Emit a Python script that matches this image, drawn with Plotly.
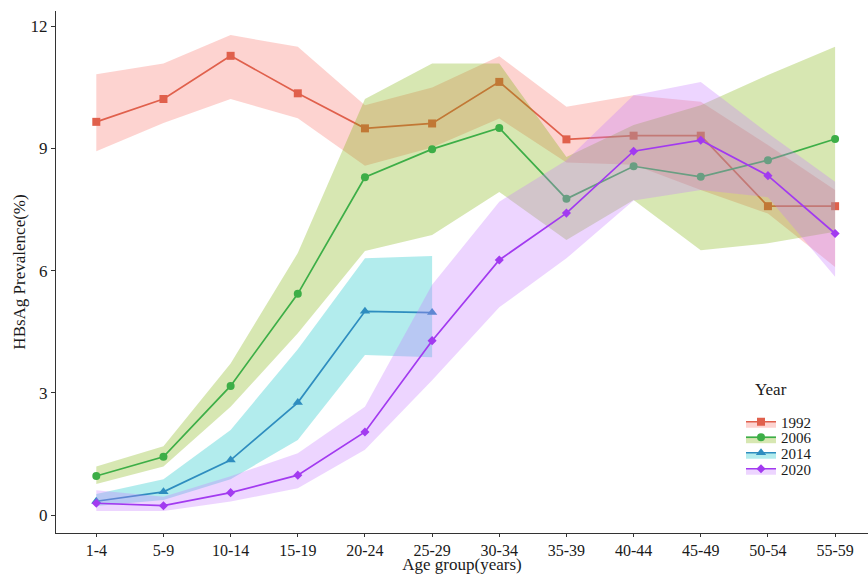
import plotly.graph_objects as go

ages = ["1-4", "5-9", "10-14", "15-19", "20-24", "25-29", "30-34",
        "35-39", "40-44", "45-49", "50-54", "55-59"]

years = ["1992", "2006", "2014", "2020"]

mean_1992 = [9.65, 10.21, 11.27, 10.35, 9.49, 9.61, 10.63, 9.22, 9.31, 9.31, 7.58, 7.58]
low_1992 = [8.93, 9.62, 10.21, 9.74, 8.57, 9.02, 9.73, 8.65, 8.60, 7.98, 7.40, 6.09]
up_1992 = [10.82, 11.08, 11.78, 11.49, 10.06, 10.49, 11.26, 10.02, 10.30, 10.14, 9.08, 7.98]

mean_2006 = [0.96, 1.43, 3.17, 5.43, 8.29, 8.98, 9.50, 7.76, 8.56, 8.30, 8.71, 9.23]
low_2006 = [0.76, 1.19, 2.66, 4.46, 6.48, 6.87, 7.93, 6.75, 7.73, 6.50, 6.67, 6.95]
up_2006 = [1.19, 1.69, 3.72, 6.43, 10.21, 11.08, 11.08, 8.79, 9.57, 10.06, 10.80, 11.49]

mean_2014 = [0.34, 0.57, 1.35, 2.76, 5.00, 4.97]
low_2014 = [0.22, 0.37, 0.88, 1.84, 3.93, 3.87]
up_2014 = [0.52, 0.88, 2.09, 4.07, 6.30, 6.36]

mean_2020 = [0.29, 0.23, 0.55, 0.98, 2.04, 4.28, 6.26, 7.41, 8.93, 9.20, 8.33, 6.91]
low_2020 = [0.10, 0.10, 0.33, 0.66, 1.60, 3.31, 5.10, 6.30, 7.72, 7.98, 7.80, 5.85]
up_2020 = [0.61, 0.45, 0.95, 1.52, 2.66, 5.65, 7.69, 8.71, 10.30, 10.63, 9.37, 8.18]

y_ticks = [0, 3, 6, 9, 12]

series = [
    ("1992", mean_1992, low_1992, up_1992, "#E0604C", "rgba(248,118,109,0.32)", "square", 8),
    ("2006", mean_2006, low_2006, up_2006, "#3DAE47", "rgba(124,174,0,0.30)", "circle", 8),
    ("2014", mean_2014, low_2014, up_2014, "#2E8DBF", "rgba(0,191,196,0.30)", "triangle-up", 9),
    ("2020", mean_2020, low_2020, up_2020, "#A23AF0", "rgba(199,124,255,0.32)", "diamond", 7),
]
legend_ids = ["legend", "legend2", "legend3", "legend4"]
legend_y = [0.2126, 0.1830, 0.1533, 0.1226]

FONT = "Liberation Serif, Times New Roman, serif"

fig = go.Figure()
for (name, m, lo, up, lc, fc, sym, ms), lg in zip(series, legend_ids):
    x = ages[:len(m)]
    fig.add_trace(go.Scatter(x=x, y=lo, mode="lines", line=dict(width=0, color=fc),
                             showlegend=False, hoverinfo="skip", legendgroup=name))
    fig.add_trace(go.Scatter(x=x, y=m, mode="lines+markers", name=name, legendgroup=name,
                             legend=lg, fill="tonexty", fillcolor=fc,
                             line=dict(color=lc, width=1.7),
                             marker=dict(symbol=sym, size=ms, color=lc)))
    fig.add_trace(go.Scatter(x=x, y=up, mode="lines", line=dict(width=0, color=fc),
                             fill="tonexty", fillcolor=fc, showlegend=False,
                             hoverinfo="skip", legendgroup=name))

legend_common = dict(x=0.8436, xanchor="left", yanchor="middle",
                     font=dict(size=15, family=FONT, color="#1a1a1a"),
                     bgcolor="rgba(0,0,0,0)", itemwidth=30, borderwidth=0)

fig.update_layout(
    width=868, height=574,
    margin=dict(l=56, r=0, t=11, b=41),
    paper_bgcolor="white", plot_bgcolor="white",
    font=dict(family=FONT, size=17, color="#1a1a1a"),
    legend=dict(y=legend_y[0], **legend_common),
    legend2=dict(y=legend_y[1], **legend_common),
    legend3=dict(y=legend_y[2], **legend_common),
    legend4=dict(y=legend_y[3], **legend_common),
    annotations=[dict(text="Year", xref="paper", yref="paper", x=0.8584, y=0.274,
                      xanchor="left", yanchor="middle", showarrow=False,
                      font=dict(size=17, family=FONT, color="#1a1a1a"))],
    xaxis=dict(
        type="category", categoryorder="array", categoryarray=ages,
        range=[-0.6, 11.49],
        showline=True, linecolor="#333333", linewidth=1,
        ticks="outside", ticklen=3, tickcolor="#333333",
        showgrid=False, zeroline=False,
        tickfont=dict(size=16, family=FONT, color="#1a1a1a"),
        title=dict(text="Age group(years)", font=dict(size=17, family=FONT), standoff=2),
    ),
    yaxis=dict(
        range=[-0.44, 12.37],
        tickvals=y_ticks, ticktext=[str(v) for v in y_ticks],
        showline=True, linecolor="#333333", linewidth=1,
        ticks="outside", ticklen=4, tickcolor="#333333",
        showgrid=False, zeroline=False,
        tickfont=dict(size=17, family=FONT, color="#1a1a1a"),
        title=dict(text="HBsAg Prevalence(%)", font=dict(size=17, family=FONT), standoff=0),
    ),
)

fig.write_html("out.html", config={"displayModeBar": False},
               post_script="document.body.style.margin='0';document.body.style.overflow='hidden';")
